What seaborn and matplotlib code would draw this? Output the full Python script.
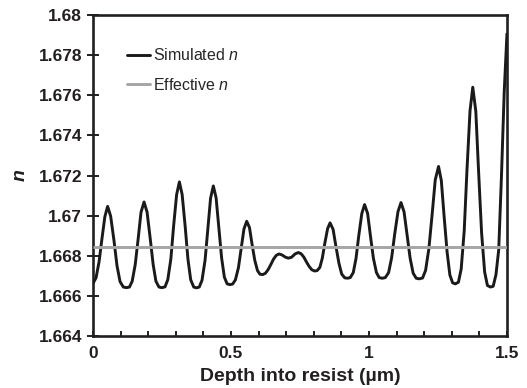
import matplotlib
matplotlib.use("Agg")
import matplotlib.pyplot as plt
import numpy as np
import pandas as pd
import seaborn as sns
from matplotlib.ticker import MultipleLocator, FuncFormatter
from matplotlib.lines import Line2D

# ---- data ----
depth = [
    0.000, 0.011, 0.022, 0.032, 0.043, 0.053,
    0.064, 0.076, 0.087, 0.098, 0.110, 0.121,
    0.132, 0.142, 0.153, 0.164, 0.174, 0.185,
    0.196, 0.207, 0.218, 0.228, 0.239, 0.250,
    0.261, 0.271, 0.282, 0.292, 0.303, 0.313,
    0.323, 0.334, 0.344, 0.354, 0.365, 0.375,
    0.385, 0.395, 0.406, 0.416, 0.426, 0.436,
    0.446, 0.456, 0.466, 0.476, 0.486, 0.496,
    0.506, 0.516, 0.527, 0.537, 0.547, 0.557,
    0.567, 0.576, 0.586, 0.596, 0.605, 0.615,
    0.625, 0.635, 0.645, 0.654, 0.664, 0.674,
    0.685, 0.697, 0.708,
    0.720, 0.732, 0.744,
    0.754, 0.764, 0.773, 0.783, 0.793, 0.803,
    0.812, 0.822, 0.831, 0.840, 0.850, 0.859,
    0.870, 0.880, 0.891, 0.901, 0.912, 0.922,
    0.932, 0.943, 0.953, 0.963, 0.974, 0.984,
    0.995, 1.005, 1.016, 1.027, 1.037, 1.048,
    1.059, 1.071, 1.082, 1.093, 1.105, 1.116,
    1.127, 1.138, 1.149, 1.160, 1.171, 1.182,
    1.194, 1.205, 1.217, 1.229, 1.240, 1.252,
    1.262, 1.272, 1.283, 1.293, 1.303, 1.313,
    1.324, 1.334, 1.345, 1.355, 1.366, 1.376,
    1.387, 1.397, 1.408, 1.419, 1.429, 1.440,
    1.450, 1.460, 1.470, 1.480, 1.490, 1.500,
]

n_simulated = [
    1.66662, 1.66690, 1.66770, 1.66880, 1.66995, 1.67046,
    1.66997, 1.66876, 1.66750, 1.66671, 1.66644, 1.66641,
    1.66644, 1.66673, 1.66756, 1.66889, 1.67017, 1.67068,
    1.67017, 1.66889, 1.66756, 1.66673, 1.66644, 1.66641,
    1.66645, 1.66681, 1.66783, 1.66947, 1.67105, 1.67168,
    1.67105, 1.66946, 1.66783, 1.66680, 1.66644, 1.66640,
    1.66644, 1.66678, 1.66777, 1.66935, 1.67087, 1.67148,
    1.67089, 1.66941, 1.66789, 1.66693, 1.66660, 1.66656,
    1.66659, 1.66680, 1.66741, 1.66839, 1.66934, 1.66972,
    1.66940, 1.66860, 1.66778, 1.66726, 1.66708, 1.66706,
    1.66713, 1.66732, 1.66758, 1.66783, 1.66802, 1.66809,
    1.66804, 1.66793, 1.66788,
    1.66793, 1.66809, 1.66816,
    1.66810, 1.66793, 1.66770, 1.66747, 1.66730, 1.66724,
    1.66726, 1.66742, 1.66789, 1.66863, 1.66935, 1.66964,
    1.66931, 1.66848, 1.66763, 1.66709, 1.66690, 1.66688,
    1.66691, 1.66716, 1.66787, 1.66901, 1.67011, 1.67055,
    1.67011, 1.66901, 1.66787, 1.66716, 1.66691, 1.66688,
    1.66691, 1.66716, 1.66790, 1.66907, 1.67020, 1.67065,
    1.67019, 1.66905, 1.66788, 1.66713, 1.66688, 1.66685,
    1.66689, 1.66727, 1.66836, 1.67010, 1.67178, 1.67245,
    1.67175, 1.66999, 1.66818, 1.66704, 1.66665, 1.66660,
    1.66668, 1.66734, 1.66925, 1.67228, 1.67522, 1.67640,
    1.67520, 1.67222, 1.66913, 1.66719, 1.66652, 1.66644,
    1.66648, 1.66706, 1.66830, 1.67200, 1.67620, 1.67910,
]

n_effective = 1.66843

x_ticks = [0, 0.5, 1, 1.5]
y_ticks = [1.664, 1.666, 1.668, 1.670, 1.672, 1.674, 1.676, 1.678, 1.680]
legend_labels = ["Simulated $n$", "Effective $n$"]
x_label = "Depth into resist (\u00b5m)"
y_label = "n"

# ---- style ----
sns.set_theme(style="ticks")
plt.rcParams["font.family"] = ["Liberation Sans", "DejaVu Sans"]
plt.rcParams["mathtext.fontset"] = "custom"
plt.rcParams["mathtext.rm"] = "Liberation Sans"
plt.rcParams["mathtext.it"] = "Liberation Sans:italic"
plt.rcParams["mathtext.bf"] = "Liberation Sans:bold"

BLACK = "#1a1a1a"
GREY = "#a5a5a5"
SPINE = "#231f20"

fig = plt.figure(figsize=(5.27, 3.88), dpi=100)
ax = fig.add_axes([0.17647, 0.13402, 0.78558, 0.82732])

df_sim = pd.DataFrame({"depth": depth, "n": n_simulated})
df_eff = pd.DataFrame({"depth": depth, "n": [n_effective] * len(depth)})

sns.lineplot(data=df_sim, x="depth", y="n", color=BLACK, linewidth=2.1,
             ax=ax, zorder=3, sort=False)
sns.lineplot(data=df_eff, x="depth", y="n", color=GREY, linewidth=2.1,
             ax=ax, zorder=4, sort=False)
for ln in ax.get_lines():
    ln.set_solid_joinstyle("round")
    ln.set_solid_capstyle("butt")

ax.set_xlim(0, 1.5)
ax.set_ylim(1.664, 1.680)

ax.set_xticks(x_ticks)
ax.xaxis.set_minor_locator(MultipleLocator(0.1))
ax.set_yticks(y_ticks)
ax.xaxis.set_major_formatter(FuncFormatter(lambda v, p: f"{v:g}"))
ax.yaxis.set_major_formatter(FuncFormatter(lambda v, p: f"{v:.3f}".rstrip("0")))

ax.tick_params(axis="x", which="both", direction="in", length=3.8, width=1.4,
               color=SPINE, pad=7, labelsize=12.5, top=False)
ax.tick_params(axis="y", which="major", direction="inout", length=8.5, width=1.4,
               color=SPINE, pad=3.5, labelsize=12.5, right=False)
for lab in ax.get_xticklabels() + ax.get_yticklabels():
    lab.set_fontweight("bold")
    lab.set_color("#231f20")

for s in ax.spines.values():
    s.set_linewidth(1.9)
    s.set_color(SPINE)
    s.set_visible(True)

ax.set_xlabel(x_label, fontsize=14, fontweight="bold", labelpad=5, color="#231f20")
ax.set_ylabel(y_label, fontsize=14, fontweight="bold", fontstyle="italic",
              labelpad=7, color="#231f20")

handles = [Line2D([], [], color=BLACK, linewidth=2.1),
           Line2D([], [], color=GREY, linewidth=2.1)]
ax.legend(handles, legend_labels, loc="upper left", bbox_to_anchor=(0.082, 0.899),
          frameon=False, fontsize=11.5, handlelength=1.45, handletextpad=0.2,
          labelspacing=0.85, borderpad=0, borderaxespad=0)

fig.savefig("out.png", dpi=100)
